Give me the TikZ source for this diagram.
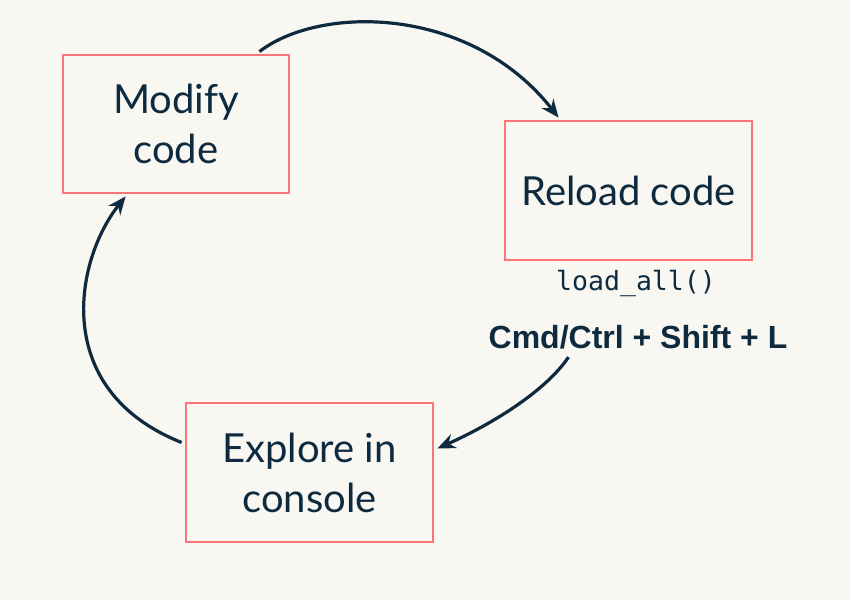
\documentclass[tikz,border=0pt]{standalone}
\usepackage{fontspec}
\setmainfont{Lato}
\newfontfamily\monof{DejaVu Sans Mono}
\newfontfamily\boldf{Liberation Sans}
\usetikzlibrary{arrows.meta,calc}
\definecolor{bgc}{HTML}{F8F7F1}
\definecolor{boxc}{HTML}{FA7575}
\definecolor{inkc}{HTML}{0E2A3F}
\tikzset{
  stepbox/.style={draw=boxc, line width=2.8pt, fill=bgc, text=inkc, align=center,
    font=\fontsize{40}{50}\selectfont, inner sep=0pt},
  flow/.style={draw=inkc, line width=3.2pt, -{Stealth[length=18pt,width=15pt]}},
}
\begin{document}
\begin{tikzpicture}[x=1pt,y=-1pt]
\fill[bgc] (0,0) rectangle (850,600);
\useasboundingbox (0,0) rectangle (850,600);
\node[stepbox, minimum width=226pt, minimum height=138pt] (modify) at (176,124) {Modify\\code};
\node[stepbox, minimum width=247pt, minimum height=139pt] (reload) at (628.5,190.5) {Reload code};
\node[stepbox, minimum width=247pt, minimum height=139pt] (explore) at (309.5,472.5) {Explore in\\console};
\node[text=inkc, font=\monof\fontsize{26.5}{30}\selectfont, inner sep=0pt] (load) at (636,283) {load\_all()};
\node[text=inkc, font=\boldf\bfseries\fontsize{32}{36}\selectfont, inner sep=0pt] (cmd) at (638,337) {Cmd/Ctrl + Shift + L};
\coordinate (a1s) at ($(modify.north east)+(-31,-2)$);
\coordinate (a1e) at ($(reload.north west)+(55,-2)$);
\coordinate (a2s) at ($(cmd.south west)+(80,8)$);
\coordinate (a2e) at ($(explore.east)+(3,-24)$);
\coordinate (a3s) at ($(explore.west)+(-3,-30)$);
\coordinate (a3e) at ($(modify.south west)+(64,2)$);
\draw[flow] (a1s) .. controls (320,5) and (470,5) .. (a1e);
\draw[flow] (a2s) .. controls (545,392) and (490,425) .. (a2e);
\draw[flow] (a3s) .. controls (50,390) and (75,260) .. (a3e);
\end{tikzpicture}
\end{document}
